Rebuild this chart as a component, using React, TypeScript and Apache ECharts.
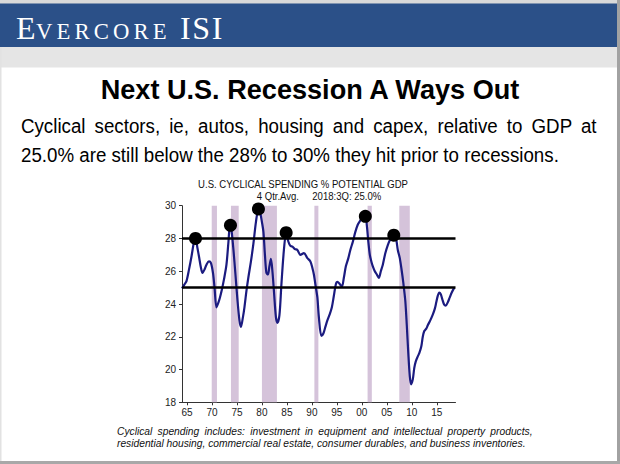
import React, { useEffect, useRef } from "react";
import * as echarts from "echarts";

// ---- data ----
const years = [
  1964.0, 1964.5, 1964.9, 1965.4, 1965.9, 1966.4, 1966.7, 1967.1, 1967.4, 1967.8,
  1968.1, 1968.5, 1968.9, 1969.4, 1969.8, 1970.2, 1970.5, 1970.9, 1971.3, 1971.6,
  1972.0, 1972.4, 1972.9, 1973.3, 1973.6, 1973.9, 1974.3, 1974.7, 1975.1, 1975.5,
  1975.8, 1976.2, 1976.5, 1976.9, 1977.3, 1977.8, 1978.3, 1978.8, 1979.3, 1979.7,
  1980.0, 1980.3, 1980.6, 1980.9, 1981.2, 1981.5, 1981.8, 1982.1, 1982.4, 1982.8,
  1983.1, 1983.5, 1983.9, 1984.4, 1984.85, 1985.3, 1985.7, 1986.1, 1986.6, 1987.1,
  1987.7, 1988.4, 1989.1, 1989.7, 1990.1, 1990.4, 1990.8, 1991.1, 1991.4, 1991.9,
  1992.3, 1992.7, 1993.1, 1993.6, 1994.0, 1994.4, 1994.8, 1995.1, 1995.5, 1996.0,
  1996.4, 1996.8, 1997.3, 1997.7, 1998.2, 1998.7, 1999.2, 1999.7, 2000.2, 2000.7,
  2001.0, 2001.3, 2001.6, 2001.9, 2002.2, 2002.6, 2003.0, 2003.4, 2003.8, 2004.2,
  2004.7, 2005.2, 2005.7, 2006.1, 2006.5, 2006.9, 2007.2, 2007.6, 2008.0, 2008.3,
  2008.7, 2009.0, 2009.3, 2009.6, 2009.85, 2010.2, 2010.5, 2010.8, 2011.2, 2011.5,
  2011.9, 2012.2, 2012.5, 2012.9, 2013.2, 2013.7, 2014.2, 2014.6, 2014.9, 2015.2,
  2015.5, 2015.8, 2016.1, 2016.5, 2016.8, 2017.2, 2017.6, 2018.0, 2018.5,
];
const values = [
  24.95, 25.2, 25.4, 26.1, 26.9, 27.8, 28.05, 27.4, 26.9, 26.2,
  25.9, 26.1, 26.4, 26.6, 26.5, 25.9, 25.05, 23.8, 24.1, 24.4,
  24.9, 25.5, 26.4, 27.8, 28.8, 28.5, 27.3, 25.8, 24.25, 23.0,
  22.6, 23.2, 23.8, 24.8, 25.65, 26.6, 27.7, 29.0, 29.8, 29.5,
  29.0, 28.4, 27.0, 25.9, 25.8, 26.3, 26.75, 26.0, 24.8, 23.2,
  22.85, 23.3, 25.2, 27.3, 28.35, 27.8, 27.55, 27.5, 27.35, 27.3,
  27.0, 27.1, 26.8, 26.6, 26.2, 25.8, 25.0, 24.4, 23.2, 22.05,
  22.2, 22.6, 23.0, 23.4, 23.8, 24.5, 25.2, 25.35, 25.25, 25.05,
  25.6, 26.3, 26.8, 27.3, 27.8, 28.4, 28.85, 29.1, 29.3, 29.35,
  28.8, 27.8, 27.0, 26.6, 26.3, 26.0, 25.8, 25.6, 26.0, 26.4,
  27.1, 27.6, 27.95, 28.15, 28.2, 27.9, 27.3, 26.8, 26.0, 25.3,
  24.2, 22.7, 21.0, 19.6, 19.1, 19.4, 20.1, 20.5, 20.8, 21.0,
  21.4, 22.0, 22.35, 22.5, 22.7, 23.0, 23.35, 23.7, 24.1, 24.5,
  24.7, 24.6, 24.3, 23.95, 23.9, 24.1, 24.4, 24.7, 25.0,
];
const peakYears = [1966.7, 1973.7, 1979.3, 1984.85, 2000.7, 2006.4];
const peakValues = [28.0, 28.8, 29.8, 28.35, 29.35, 28.2];
const recessionStarts = [1969.95, 1973.8, 1980.0, 1990.5, 2001.15, 2007.5];
const recessionEnds = [1971.0, 1975.35, 1983.0, 1991.3, 2002.0, 2009.6];
const referenceLevels = [28, 25];
const xTickYears = [1965, 1970, 1975, 1980, 1985, 1990, 1995, 2000, 2005, 2010, 2015];
const xTickLabels = ["65", "70", "75", "80", "85", "90", "95", "00", "05", "10", "15"];
const yMin = 18;
const yMax = 30;
const yStep = 2;
const xMin = 1964;
const xMax = 2018.75;

// ---- texts ----
const BRAND_FIRST = "E";
const BRAND_REST = "VERCORE";
const BRAND_ISI = "ISI";
const TITLE = "Next U.S. Recession A Ways Out";
const SUB1 = "Cyclical sectors, ie, autos, housing and capex, relative to GDP at";
const SUB2 = "25.0% are still below the 28% to 30% they hit prior to recessions.";
const CT1 = "U.S. CYCLICAL SPENDING % POTENTIAL GDP";
const CT2 = "4 Qtr.Avg.     2018:3Q: 25.0%";
const NOTE1 =
  "Cyclical spending includes: investment in equipment and intellectual property products,";
const NOTE2 =
  "residential housing, commercial real estate, consumer durables, and business inventories.";

const SANS = "Liberation Sans, Arial, sans-serif";
const SERIF = "Liberation Serif, Times New Roman, serif";

let measureCtx: CanvasRenderingContext2D | null = null;
function measure(text: string, font: string): number {
  if (!measureCtx) measureCtx = document.createElement("canvas").getContext("2d");
  if (!measureCtx) return text.length * 6;
  measureCtx.font = font;
  return measureCtx.measureText(text).width;
}

export default function App() {
  const ref = useRef<HTMLDivElement>(null);

  useEffect(() => {
    if (!ref.current) return;
    const chart = echarts.init(ref.current, undefined, { renderer: "svg" });

    // font sizes & fitting
    const titleFs = 27;
    const titleScale = 421 / measure(TITLE, `bold ${titleFs}px ${SANS}`);
    const subFs = 19.5;
    const subScale = 538 / measure(SUB2, `${subFs}px ${SANS}`);
    const sub1Nat = measure(SUB1, `${subFs}px ${SANS}`);
    const sub1Spaces = SUB1.split(" ").length - 1;
    const sub1WordSpacing = (576 / subScale - sub1Nat) / sub1Spaces;
    const ctFs = 10;
    const ctScale = 211 / measure(CT1, `${ctFs}px ${SANS}`);
    const noteFs = 10.3;
    const noteScale = 409 / measure(NOTE2, `italic ${noteFs}px ${SANS}`);
    const note1Nat = measure(NOTE1, `italic ${noteFs}px ${SANS}`);
    const note1Spaces = NOTE1.split(" ").length - 1;
    const note1WordSpacing = (416 / noteScale - note1Nat) / note1Spaces;
    const brandBig = 32;
    const brandSmall = 22.7;
    const restNat = measure(BRAND_REST, `${brandSmall}px ${SERIF}`);
    const restLS = (130.5 - restNat) / (BRAND_REST.length - 1);
    const isiNat = measure(BRAND_ISI, `${brandBig}px ${SERIF}`);
    const isiLS = (42.5 - isiNat) / (BRAND_ISI.length - 1);

    const text = (
      id: string,
      t: string,
      x: number,
      y: number,
      fs: number,
      opts: any = {}
    ) => ({
      type: "text",
      id,
      x,
      y,
      scaleX: opts.scaleX ?? 1,
      silent: true,
      z: 10,
      style: {
        text: t,
        fill: opts.fill ?? "#000",
        fontSize: fs,
        fontFamily: opts.family ?? SANS,
        fontWeight: opts.weight ?? "normal",
        fontStyle: opts.style ?? "normal",
        align: opts.align ?? "left",
        verticalAlign: "middle",
      },
    });

    const lineData = years.map((y, i) => [y, values[i]]);
    const peakData = peakYears.map((y, i) => [y, peakValues[i]]);
    const recData = recessionStarts.map((s, i) => [s, recessionEnds[i]]);

    const option: any = {
      animation: false,
      backgroundColor: "#ffffff",
      graphic: [
        { type: "rect", silent: true, z: 1, shape: { x: 0, y: 0, width: 620, height: 4 }, style: { fill: "#d9d9d9" } },
        { type: "rect", silent: true, z: 1, shape: { x: 0, y: 3.5, width: 617, height: 43.5 }, style: { fill: "#2b5088" } },
        { type: "rect", silent: true, z: 1, shape: { x: 0, y: 47, width: 617, height: 20.5 }, style: { fill: "#e5e5e5" } },
        { type: "rect", silent: true, z: 1, shape: { x: 617, y: 0, width: 3, height: 464 }, style: { fill: "#a2a2a2" } },
        { type: "rect", silent: true, z: 1, shape: { x: 0, y: 461, width: 620, height: 3 }, style: { fill: "#a8a8a8" } },
        { type: "rect", silent: true, z: 1, shape: { x: 0, y: 47, width: 1.5, height: 414 }, style: { fill: "#e2e2e2" } },
        text("brandE", BRAND_FIRST, 16, 28, brandBig, { family: SERIF, fill: "#ffffff" }),
        text("brandRest", BRAND_REST, 36, 31.5, brandSmall, { family: SERIF, fill: "#ffffff" }),
        text("brandIsi", BRAND_ISI, 180, 28, brandBig, { family: SERIF, fill: "#ffffff" }),
        text("title", TITLE, 310, 90.5, titleFs, { weight: "bold", align: "center", scaleX: titleScale }),
        text("sub1", SUB1, 21, 126.5, subFs, { scaleX: subScale }),
        text("sub2", SUB2, 21, 155, subFs, { scaleX: subScale }),
        text("ct1", CT1, 303, 184.5, ctFs, { align: "center", scaleX: ctScale, fill: "#111" }),
        text("ct2", CT2, 319, 196.5, ctFs, { align: "center", scaleX: ctScale, fill: "#111" }),
        text("note1", NOTE1, 117, 431.5, noteFs, { style: "italic", scaleX: noteScale, fill: "#111" }),
        text("note2", NOTE2, 117, 443, noteFs, { style: "italic", scaleX: noteScale, fill: "#111" }),
      ],
      grid: { left: 182, top: 205.7, width: 273.5, height: 196.6, containLabel: false },
      xAxis: {
        type: "value",
        min: xMin,
        max: xMax,
        axisLine: { show: true, lineStyle: { color: "#333", width: 1 } },
        axisTick: { show: true, length: 3, customValues: xTickYears, lineStyle: { color: "#333" } },
        axisLabel: {
          customValues: xTickYears,
          formatter: (v: number) => {
            const i = xTickYears.indexOf(Math.round(v));
            return i >= 0 ? xTickLabels[i] : "";
          },
          fontSize: 10,
          fontFamily: SANS,
          color: "#222",
          margin: 5,
        },
        splitLine: { show: false },
      },
      yAxis: {
        type: "value",
        min: yMin,
        max: yMax,
        interval: yStep,
        axisLine: { show: true, lineStyle: { color: "#333", width: 1 } },
        axisTick: { show: true, length: 3, lineStyle: { color: "#333" } },
        axisLabel: { fontSize: 10, fontFamily: SANS, color: "#222", margin: 6 },
        splitLine: { show: false },
      },
      series: [
        {
          type: "custom",
          name: "Recessions",
          silent: true,
          z: 1,
          data: recData,
          encode: { x: [0, 1] },
          renderItem: (params: any, api: any) => {
            const p0 = api.coord([api.value(0), yMax]);
            const p1 = api.coord([api.value(1), yMin]);
            return {
              type: "rect",
              shape: { x: p0[0], y: p0[1], width: p1[0] - p0[0], height: p1[1] - p0[1] },
              style: { fill: "#d5c3da" },
            };
          },
        },
        {
          type: "line",
          name: "Cyclical spending",
          silent: true,
          z: 3,
          data: lineData,
          showSymbol: false,
          smooth: 0.3,
          lineStyle: { color: "#1b1b80", width: 2.2 },
          markLine: {
            silent: true,
            symbol: "none",
            label: { show: false },
            lineStyle: { color: "#000", width: 2.5, type: "solid" },
            data: referenceLevels.map((v) => ({ yAxis: v })),
            z: 4,
          },
        },
        {
          type: "scatter",
          name: "Peaks",
          silent: true,
          z: 5,
          data: peakData,
          symbol: "circle",
          symbolSize: 13,
          itemStyle: { color: "#000", opacity: 1 },
        },
      ],
    };

    chart.setOption(option);

    const adjust = () => {
      const root = ref.current;
      if (!root) return;
      root.querySelectorAll("text").forEach((el) => {
        const t = el.textContent;
        const s = (el as SVGTextElement).style;
        if (t === SUB1) s.wordSpacing = `${sub1WordSpacing}px`;
        else if (t === NOTE1) s.wordSpacing = `${note1WordSpacing}px`;
        else if (t === BRAND_REST) s.letterSpacing = `${restLS}px`;
        else if (t === BRAND_ISI) s.letterSpacing = `${isiLS}px`;
      });
    };
    adjust();
    chart.on("finished", adjust);
    const timer = setTimeout(adjust, 50);

    return () => {
      clearTimeout(timer);
      chart.dispose();
    };
  }, []);

  return (
    <div
      ref={ref}
      style={{ position: "absolute", left: 0, top: 0, width: 620, height: 464 }}
    />
  );
}
